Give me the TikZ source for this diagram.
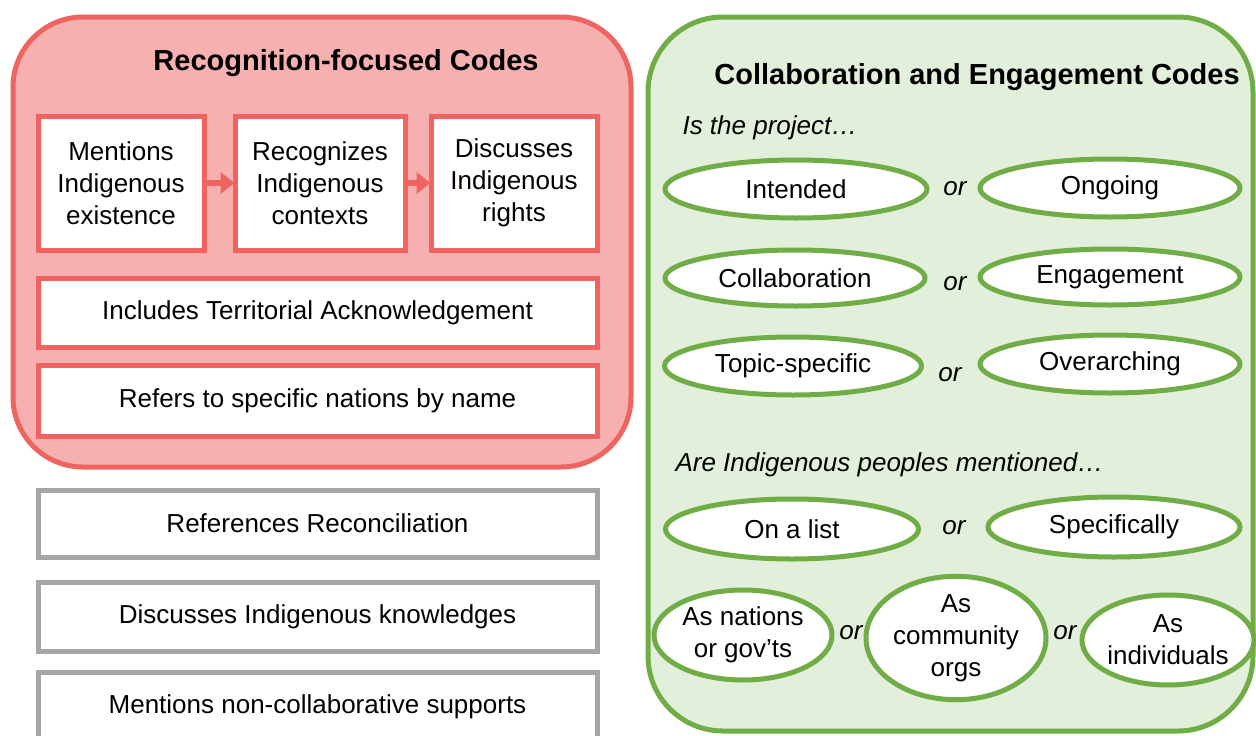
\documentclass[tikz,border=0pt]{standalone}
\usepackage{fontspec}
\setmainfont{Liberation Sans}
\usetikzlibrary{shapes.geometric,arrows.meta}
\definecolor{redfill}{HTML}{F6B0B0}
\definecolor{redline}{HTML}{EF6461}
\definecolor{greenfill}{HTML}{E2EFDA}
\definecolor{greenline}{HTML}{70AD47}
\definecolor{grayline}{HTML}{A6A6A6}
\tikzset{
  body/.style={font=\fontsize{26}{32}\selectfont, align=center, text=black},
  redbox/.style={body, draw=redline, line width=5pt, fill=white, inner sep=0pt},
  graybox/.style={body, draw=grayline, line width=5pt, fill=white, inner sep=0pt},
  oval/.style={body, ellipse, draw=greenline, line width=5pt, fill=white, inner sep=0pt},
  ortext/.style={font=\fontsize{26}{30}\selectfont\itshape},
  question/.style={font=\fontsize{26}{30}\selectfont\itshape, anchor=west},
  heading/.style={font=\fontsize{29}{34}\selectfont\bfseries},
  redarrow/.style={draw=redline, line width=6pt, -{Triangle[length=14pt,width=21pt]}, shorten <=-1pt, shorten >=-2pt}
}
\begin{document}
\begin{tikzpicture}[x=1pt,y=-1pt]
\clip (0,0) rectangle (1256,736);
\fill[white] (0,0) rectangle (1256,736);
% red group
\draw[draw=redline, fill=redfill, line width=5pt, rounded corners=70pt] (13,17) rectangle (631,467);
\node[heading] (redtitle) at (346,63) {Recognition-focused Codes};
\node[redbox, minimum width=166pt, minimum height=134pt] (b1) at (121,183) {Mentions\\Indigenous\\existence};
\node[redbox, minimum width=170pt, minimum height=134pt] (b2) at (320,183) {Recognizes\\Indigenous\\contexts};
\node[redbox, minimum width=166pt, minimum height=134pt] (b3) at (514,183) {Discusses\\Indigenous\\rights};
\draw[redarrow] (b1.east) -- (b2.west);
\draw[redarrow] (b2.east) -- (b3.west);
\node[redbox, minimum width=559pt, minimum height=69pt] (terr) at (317.5,312.5) {Includes Territorial Acknowledgement};
\node[redbox, minimum width=559pt, minimum height=71pt] (nations) at (317.5,400.5) {Refers to specific nations by name};
% gray boxes
\node[graybox, minimum width=559pt, minimum height=67pt] (recon) at (317.5,523.5) {References Reconciliation};
\node[graybox, minimum width=559pt, minimum height=69pt] (know) at (317.5,616.5) {Discusses Indigenous knowledges};
\node[graybox, minimum width=559pt, minimum height=70pt] (supp) at (317.5,707) {Mentions non-collaborative supports};
% green group
\draw[draw=greenline, fill=greenfill, line width=5pt, rounded corners=75pt] (648,17) rectangle (1253,731);
\node[heading] (greentitle) at (977,77) {Collaboration and Engagement Codes};
\node[question] (q1) at (679,128) {Is the project…};
\node[oval, minimum width=262pt, minimum height=58pt] (intended) at (796,189) {Intended};
\node[ortext] (or1) at (955,189) {or};
\node[oval, minimum width=260pt, minimum height=58pt] (ongoing) at (1110,188) {Ongoing};
\node[oval, minimum width=260pt, minimum height=56pt] (collab) at (795,278) {Collaboration};
\node[ortext] (or2) at (955,284) {or};
\node[oval, minimum width=260pt, minimum height=56pt] (engage) at (1110,277) {Engagement};
\node[oval, minimum width=257pt, minimum height=58pt] (topic) at (793,366) {Topic-specific};
\node[ortext] (or3) at (950,375) {or};
\node[oval, minimum width=260pt, minimum height=58pt] (over) at (1110,364) {Overarching};
\node[question] (q2) at (672,465) {Are Indigenous peoples mentioned…};
\node[oval, minimum width=253pt, minimum height=60pt] (list) at (792,529) {On a list};
\node[ortext] (or4) at (954,528) {or};
\node[oval, minimum width=252pt, minimum height=60pt] (spec) at (1114,527) {Specifically};
\node[oval, minimum width=178pt, minimum height=90pt] (govts) at (743,635) {As nations\\or gov’ts};
\node[ortext] (or5) at (851,633) {or};
\node[oval, minimum width=180pt, minimum height=90pt] (orgs) at (956,638) {As\\community\\orgs};
\node[ortext] (or6) at (1065,633) {or};
\node[oval, minimum width=172pt, minimum height=90pt] (indiv) at (1168,640) {As\\individuals};
\end{tikzpicture}
\end{document}
